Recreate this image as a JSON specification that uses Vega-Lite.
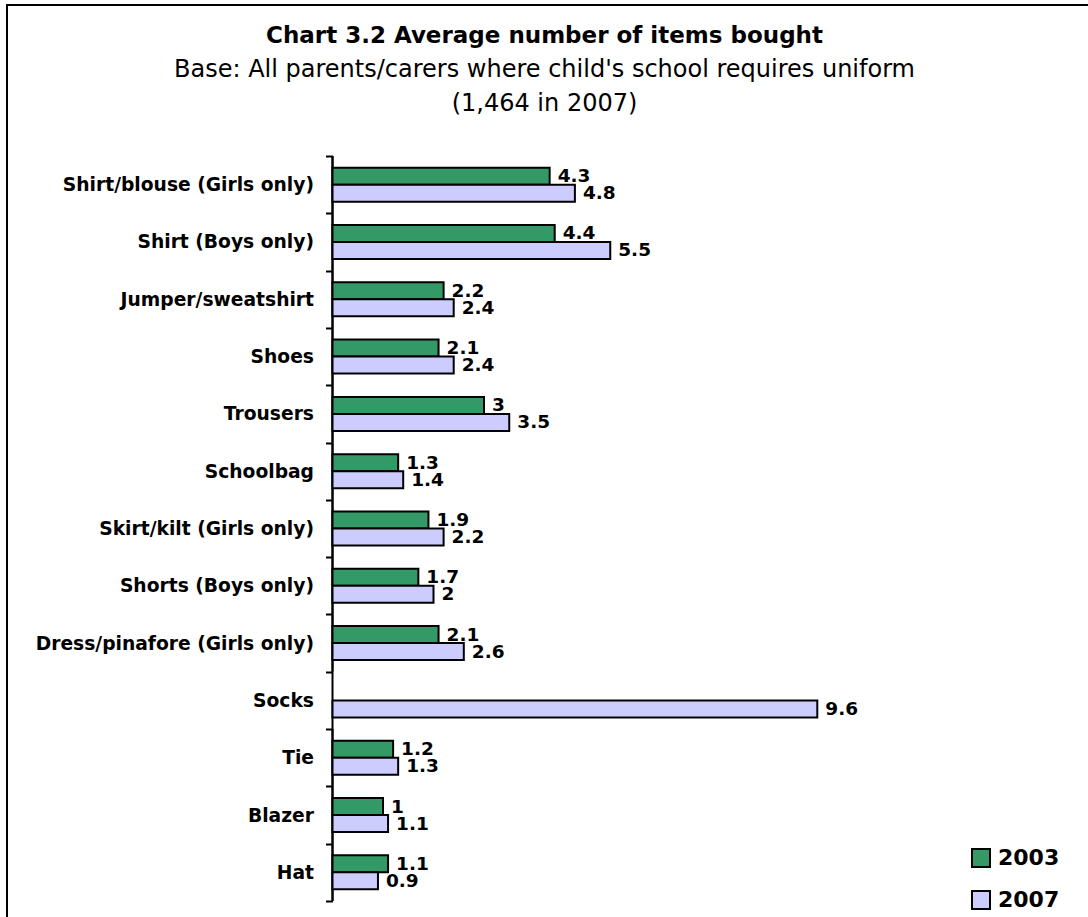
{
  "$schema": "https://vega.github.io/schema/vega-lite/v6.json",
  "width": 1085,
  "height": 915,
  "autosize": {"type": "none"},
  "padding": {"left": 7, "top": 5, "right": -4, "bottom": -3},
  "background": "white",
  "config": {"view": {"stroke": "black", "strokeWidth": 2}, "font": "DejaVu Sans"},
  "title": {
    "text": "Chart 3.2 Average number of items bought",
    "subtitle": ["Base: All parents/carers where child's school requires uniform", "(1,464 in 2007)"],
    "anchor": "middle",
    "dx": -5,
    "offset": -120,
    "font": "DejaVu Sans",
    "fontSize": 23,
    "fontWeight": "bold",
    "color": "black",
    "subtitleFont": "DejaVu Sans",
    "subtitleFontSize": 24,
    "subtitleColor": "black",
    "subtitleLineHeight": 34,
    "subtitlePadding": 10
  },
  "data": {
    "values": [
      {"cat": "Shirt/blouse (Girls only)", "year": "2003", "value": 4.3},
      {"cat": "Shirt/blouse (Girls only)", "year": "2007", "value": 4.8},
      {"cat": "Shirt (Boys only)", "year": "2003", "value": 4.4},
      {"cat": "Shirt (Boys only)", "year": "2007", "value": 5.5},
      {"cat": "Jumper/sweatshirt", "year": "2003", "value": 2.2},
      {"cat": "Jumper/sweatshirt", "year": "2007", "value": 2.4},
      {"cat": "Shoes", "year": "2003", "value": 2.1},
      {"cat": "Shoes", "year": "2007", "value": 2.4},
      {"cat": "Trousers", "year": "2003", "value": 3},
      {"cat": "Trousers", "year": "2007", "value": 3.5},
      {"cat": "Schoolbag", "year": "2003", "value": 1.3},
      {"cat": "Schoolbag", "year": "2007", "value": 1.4},
      {"cat": "Skirt/kilt (Girls only)", "year": "2003", "value": 1.9},
      {"cat": "Skirt/kilt (Girls only)", "year": "2007", "value": 2.2},
      {"cat": "Shorts (Boys only)", "year": "2003", "value": 1.7},
      {"cat": "Shorts (Boys only)", "year": "2007", "value": 2},
      {"cat": "Dress/pinafore (Girls only)", "year": "2003", "value": 2.1},
      {"cat": "Dress/pinafore (Girls only)", "year": "2007", "value": 2.6},
      {"cat": "Socks", "year": "2007", "value": 9.6},
      {"cat": "Tie", "year": "2003", "value": 1.2},
      {"cat": "Tie", "year": "2007", "value": 1.3},
      {"cat": "Blazer", "year": "2003", "value": 1},
      {"cat": "Blazer", "year": "2007", "value": 1.1},
      {"cat": "Hat", "year": "2003", "value": 1.1},
      {"cat": "Hat", "year": "2007", "value": 0.9}
    ]
  },
  "encoding": {
    "y": {
      "field": "cat",
      "type": "nominal",
      "sort": null,
      "scale": {"paddingInner": 0, "paddingOuter": 0, "range": [151, 896]},
      "axis": {
        "title": null,
        "domain": false,
        "offset": -325.5,
        "tickBand": "extent",
        "tickSize": 7,
        "tickWidth": 2,
        "tickColor": "black",
        "labelFont": "DejaVu Sans",
        "labelFontWeight": "bold",
        "labelFontSize": 18.7,
        "labelColor": "black",
        "labelPadding": 12,
        "labelLimit": 0
      }
    }
  },
  "layer": [
    {
      "mark": {"type": "rect", "fillOpacity": 0, "stroke": "black", "strokeWidth": 2},
      "encoding": {
        "x": {"datum": 0, "type": "quantitative", "scale": {"domain": [-6.446, 15.04], "nice": false, "zero": false}, "axis": null},
        "x2": {"datum": 0}
      }
    },
    {
      "mark": {"type": "bar", "stroke": "black", "strokeWidth": 2},
      "encoding": {
        "x": {"field": "value", "type": "quantitative", "scale": {"domain": [-6.446, 15.04], "nice": false, "zero": false}, "axis": null},
        "x2": {"datum": 0},
        "yOffset": {"field": "year", "type": "nominal", "scale": {"paddingInner": 0, "paddingOuter": 0.685}},
        "color": {
          "field": "year",
          "type": "nominal",
          "scale": {"domain": ["2003", "2007"], "range": ["#339966", "#CCCCFF"]},
          "legend": {
            "title": null,
            "orient": "none",
            "legendX": 963,
            "legendY": 842,
            "symbolType": "square",
            "symbolSize": 324,
            "symbolStrokeColor": "black",
            "symbolStrokeWidth": 2,
            "symbolOpacity": 1,
            "labelFont": "DejaVu Sans",
            "labelFontWeight": "bold",
            "labelFontSize": 22,
            "labelColor": "black",
            "labelOffset": 6,
            "rowPadding": 16
          }
        }
      }
    },
    {
      "mark": {"type": "text", "align": "left", "baseline": "middle", "dx": 8, "fontWeight": "bold", "fontSize": 18.5, "font": "DejaVu Sans", "color": "black"},
      "encoding": {
        "x": {"field": "value", "type": "quantitative", "scale": {"domain": [-6.446, 15.04], "nice": false, "zero": false}, "axis": null},
        "yOffset": {"field": "year", "type": "nominal"},
        "text": {"field": "value", "type": "nominal"}
      }
    }
  ]
}
